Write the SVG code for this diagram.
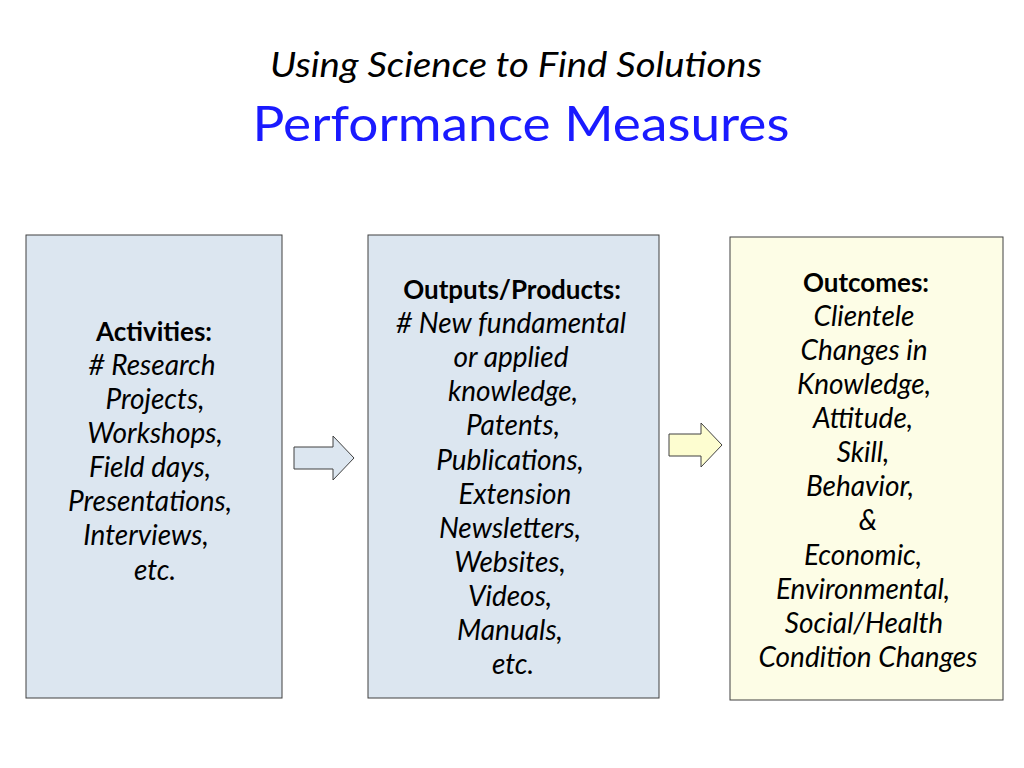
<svg xmlns="http://www.w3.org/2000/svg" width="1024" height="768" viewBox="0 0 1024 768">
<style>
text{font-family:Lato,"Open Sans","Liberation Sans",sans-serif;fill:#000;text-anchor:middle}
.t{font-size:28px;font-style:italic}
.b{font-size:26px;font-weight:bold;font-style:normal}
.box{stroke:#404040;stroke-width:1}
.arr{stroke:#404040;stroke-width:1}
</style>
<rect width="1024" height="768" fill="#fff"/>
<g id="title">
<text x="516" y="77" style="font-size:34px;font-style:italic" textLength="492" lengthAdjust="spacingAndGlyphs">Using Science to Find Solutions</text>
<text x="521" y="141" style="font-size:49px;fill:#1a1aff" textLength="537" lengthAdjust="spacingAndGlyphs">Performance Measures</text>
</g>
<g id="activities">
<rect class="box" x="26" y="235" width="256" height="463" fill="#dce6f0"/>
<text class="t b" x="154" y="341">Activities:</text>
<text class="t" x="152" y="375">#&#160;Research</text>
<text class="t" x="155" y="409">Projects,</text>
<text class="t" x="155" y="443">Workshops,</text>
<text class="t" x="150" y="477">Field days,</text>
<text class="t" x="150" y="511">Presentations,</text>
<text class="t" x="146" y="545">Interviews,</text>
<text class="t" x="155" y="580">etc.</text>
</g>
<g id="outputs">
<rect class="box" x="368" y="235" width="291" height="463" fill="#dce6f0"/>
<text class="t b" x="512" y="299">Outputs/Products:</text>
<text class="t" x="511" y="333">#&#160;New fundamental</text>
<text class="t" x="511" y="367">or applied</text>
<text class="t" x="513" y="401">knowledge,</text>
<text class="t" x="513" y="435">Patents,</text>
<text class="t" x="510" y="470">Publications,</text>
<text class="t" x="515" y="504">Extension</text>
<text class="t" x="510" y="538">Newsletters,</text>
<text class="t" x="510" y="572">Websites,</text>
<text class="t" x="510" y="606">Videos,</text>
<text class="t" x="510" y="640">Manuals,</text>
<text class="t" x="513" y="674">etc.</text>
</g>
<g id="outcomes">
<rect class="box" x="730" y="237" width="273" height="463" fill="#fdfde6"/>
<text class="t b" x="866" y="292">Outcomes:</text>
<text class="t" x="864" y="326">Clientele</text>
<text class="t" x="864" y="360">Changes in</text>
<text class="t" x="864" y="394">Knowledge,</text>
<text class="t" x="863" y="428">Attitude,</text>
<text class="t" x="863" y="462">Skill,</text>
<text class="t" x="860" y="496">Behavior,</text>
<text class="t" x="868" y="530">&amp;</text>
<text class="t" x="863" y="565">Economic,</text>
<text class="t" x="863" y="599">Environmental,</text>
<text class="t" x="864" y="633">Social/Health</text>
<text class="t" x="868" y="667">Condition Changes</text>
</g>
<g id="connectors">
<polygon class="arr" fill="#dce6f0" points="294,447 333,447 333,436 354,458 333,480 333,469 294,469"/>
<polygon class="arr" fill="#fdfdd0" points="669,434 701,434 701,423 722,445 701,467 701,456 669,456"/>
</g>
</svg>
